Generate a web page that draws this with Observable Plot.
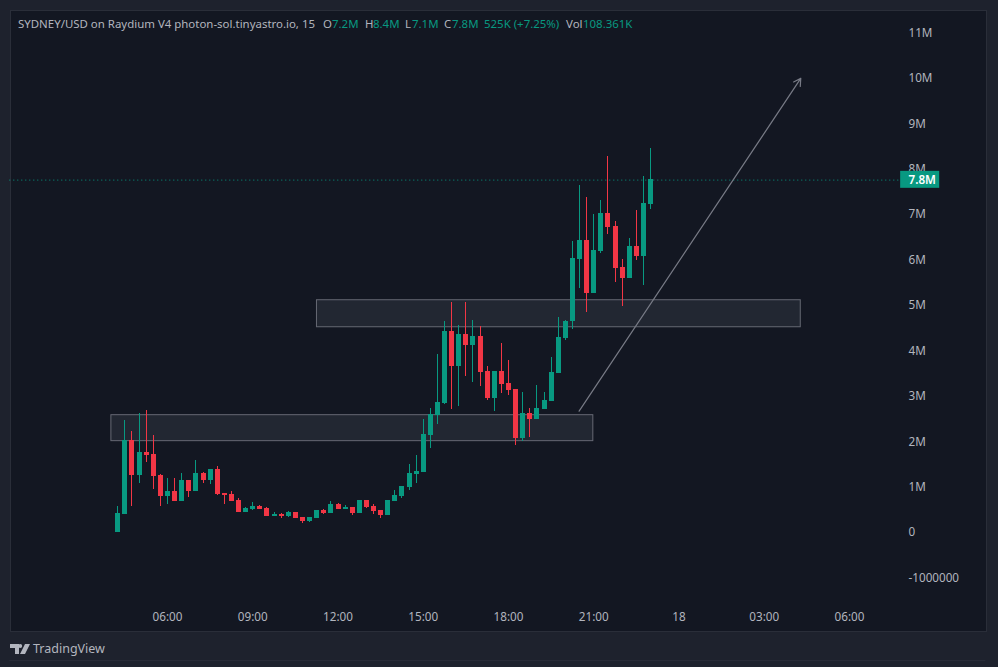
<!DOCTYPE html>
<html><head><meta charset="utf-8">
<script src="https://cdn.jsdelivr.net/npm/d3@7"></script>
<script src="https://cdn.jsdelivr.net/npm/@observablehq/plot@0.6"></script>
<style>
html,body{margin:0;padding:0;width:998px;height:667px;overflow:hidden;background:#1e222d;font-family:"Noto Sans",sans-serif}
#panel{position:absolute;left:10px;top:10px;width:977px;height:622px;box-sizing:border-box;background:#131722;border:1px solid #2a2e39}
#chart{position:absolute;left:0;top:0}
#legend span{position:absolute;top:15px;font-size:11.45px;line-height:18px;white-space:nowrap}
.lab{color:#b2b5be}.val{color:#089981}
#brand{position:absolute;left:33px;top:639px;font-size:12.5px;line-height:20px;color:#b2b5be}
#logo{position:absolute;left:10px;top:643px}
</style></head><body>
<div id="panel"></div>
<div id="chart"></div>
<div id="legend"></div>
<svg id="logo" width="20" height="12" viewBox="0 0 20 12"><path fill="#b2b5be" d="M0 1h9v10H5V5H0zM15 1h5l-5 10H10zM12.2 3a2 2 0 1 1-4 0 2 2 0 0 1 4 0z"/></svg>
<div id="brand">TradingView</div>
<script>
const opens=[0,.396,2.024,1.254,1.76,1.716,1.254,.792,.902,.682,1.144,.902,1.298,1.144,1.386,.858,.836,.704,.44,.506,.572,.528,.352,.396,.352,.44,.33,.242,.308,.484,.418,.616,.506,.55,.418,.704,.572,.484,.374,.682,.792,.99,1.276,1.32,2.134,2.574,2.838,4.422,3.652,4.356,4.114,4.312,3.542,2.948,3.542,3.278,3.146,2.068,2.618,2.486,2.706,2.882,3.498,4.268,4.642,6.006,6.424,5.258,6.182,7.018,6.732,5.83,5.588,6.292,6.072,7.216];
const highs=[.572,2.464,2.222,2.618,2.684,2.134,1.276,1.188,1.188,1.298,1.144,1.584,1.32,1.386,1.452,.858,.902,.748,.55,.66,.594,.55,.44,.418,.462,.44,.33,.33,.484,.506,.682,.638,.594,.55,.704,.704,.616,.484,.704,.924,1.012,1.496,1.694,2.486,2.728,3.916,4.642,5.06,4.554,5.06,4.664,4.532,3.652,3.542,4.158,3.784,3.146,3.08,2.728,3.234,3.08,3.85,4.73,4.664,6.402,7.634,7.37,6.996,7.304,8.272,6.842,6.006,6.468,7.084,7.832,8.448];
const lows=[0,.396,.572,1.078,1.54,.946,.572,.616,.682,.682,.77,.902,1.078,1.056,.814,.616,.682,.44,.44,.484,.506,.352,.352,.308,.33,.308,.198,.22,.308,.396,.418,.506,.506,.374,.418,.528,.396,.308,.374,.682,.748,.924,1.078,1.32,1.848,2.376,2.816,2.706,2.772,3.432,3.3,3.212,2.904,2.662,3.058,3.014,1.914,2.002,2.09,2.486,2.706,2.882,3.498,4.224,4.466,5.368,4.84,5.258,6.138,6.556,5.5,4.972,5.588,5.984,5.434,7.106];
const closes=[.418,2.024,1.254,1.76,1.694,1.232,.792,.902,.682,1.144,.902,1.298,1.144,1.386,.836,.814,.682,.44,.528,.572,.506,.352,.396,.352,.44,.308,.242,.33,.484,.418,.616,.506,.55,.418,.704,.55,.462,.374,.704,.814,1.012,1.298,1.342,2.156,2.596,2.86,4.422,3.652,4.356,4.114,4.312,3.52,2.948,3.542,3.256,3.124,2.068,2.618,2.486,2.728,2.904,3.52,4.29,4.642,6.028,6.424,5.258,6.204,7.018,6.71,5.808,5.588,6.292,6.072,7.238,7.766];

const yTicks=[-1,0,1,2,3,4,5,6,7,8,9,10,11];
const yTickLabels=["-1000000","0","1M","2M","3M","4M","5M","6M","7M","8M","9M","10M","11M"];
const xTickBars=[7,19,31,43,55,67,79,91,103];
const xTickLabels=["06:00","09:00","12:00","15:00","18:00","21:00","18","03:00","06:00"];
const zones=[{b1:-.9,b2:66.94,lo:2.002,hi:2.574},{b1:28.04,b2:96.14,lo:4.51,hi:5.105}];
const arrowBars=[64.94,96.14], arrowValues=[2.662,9.99];
const lastPrice=7.75, lastLabel="7.8M", tagBars=[110.2,115.7], tagValues=[7.569,7.943];
const legendParts=[["SYDNEY/USD on Raydium V4 photon-sol.tinyastro.io, 15",18,"lab"],["O",323,"lab"],["7.2M",332,"val"],["H",365,"lab"],["8.4M",373,"val"],["L",405,"lab"],["7.1M",412,"val"],["C",444,"lab"],["7.8M",452,"val"],["525K (+7.25%)",484,"val"],["Vol",566,"lab"],["108.361K",583,"val"]];

const up="#089981", down="#f23645";
const t=i=>new Date(Date.UTC(2024,2,17,4,15)+i*9e5);
const candles=opens.map((o,i)=>({t:t(i),o,h:highs[i],l:lows[i],c:closes[i],col:closes[i]>=o?up:down}));
const zoneData=zones.map(z=>({x1:t(z.b1),x2:t(z.b2),y1:z.lo,y2:z.hi}));
const labelByTime=new Map(xTickBars.map((b,i)=>[+t(b),xTickLabels[i]]));

const chart=Plot.plot({
  width:998,height:667,marginLeft:10,marginRight:90,marginTop:10,marginBottom:63,
  style:{background:"transparent",color:"#b2b5be",fontFamily:"'Noto Sans',sans-serif",fontSize:"11.7px"},
  x:{type:"utc",domain:[t(7),t(103)],range:[167,849]},
  y:{domain:[-1,11],range:[577,32]},
  marks:[
    Plot.ruleY([-2.83],{stroke:"#2a2e39",x1:t(-15.2),x2:t(122.2)}),
    Plot.axisX({ticks:xTickBars.map(t),tickFormat:d=>labelByTime.get(+d),tickSize:0,tickPadding:8,label:null,fill:"#b2b5be"}),
    Plot.axisY({anchor:"right",ticks:yTicks,tickFormat:d=>yTickLabels[yTicks.indexOf(d)],tickSize:0,tickPadding:0,label:null,fill:"#b2b5be",dy:.5}),
    Plot.rect(zoneData,{x1:"x1",x2:"x2",y1:"y1",y2:"y2",fill:"#787b86",fillOpacity:.16,stroke:"#787b86",strokeOpacity:.8,strokeWidth:1}),
    Plot.ruleY([lastPrice],{stroke:up,strokeDasharray:"1 3",x1:t(-15.2),x2:t(110.2)}),
    Plot.ruleX(candles,{x:"t",y1:"l",y2:"h",stroke:"col",strokeWidth:1,shapeRendering:"crispEdges"}),
    Plot.ruleX(candles,{x:"t",y1:"o",y2:"c",stroke:"col",strokeWidth:5,shapeRendering:"crispEdges"}),
    Plot.arrow([{}],{x1:()=>t(arrowBars[0]),x2:()=>t(arrowBars[1]),y1:()=>arrowValues[0],y2:()=>arrowValues[1],stroke:"#787b86",strokeWidth:1.2,headLength:10}),
    Plot.rect([{}],{x1:()=>t(tagBars[0]),x2:()=>t(tagBars[1]),y1:()=>tagValues[0],y2:()=>tagValues[1],fill:up}),
    Plot.text([lastLabel],{x:()=>t(111.3),y:()=>lastPrice,text:d=>d,fill:"#fff",textAnchor:"start",fontWeight:600,fontSize:11.7})
  ]
});
document.getElementById("chart").append(chart);
const lg=document.getElementById("legend");
for(const [txt,x,cls] of legendParts){const s=document.createElement("span");s.textContent=txt;s.className=cls;s.style.left=x+"px";lg.append(s);}
</script>
</body></html>
